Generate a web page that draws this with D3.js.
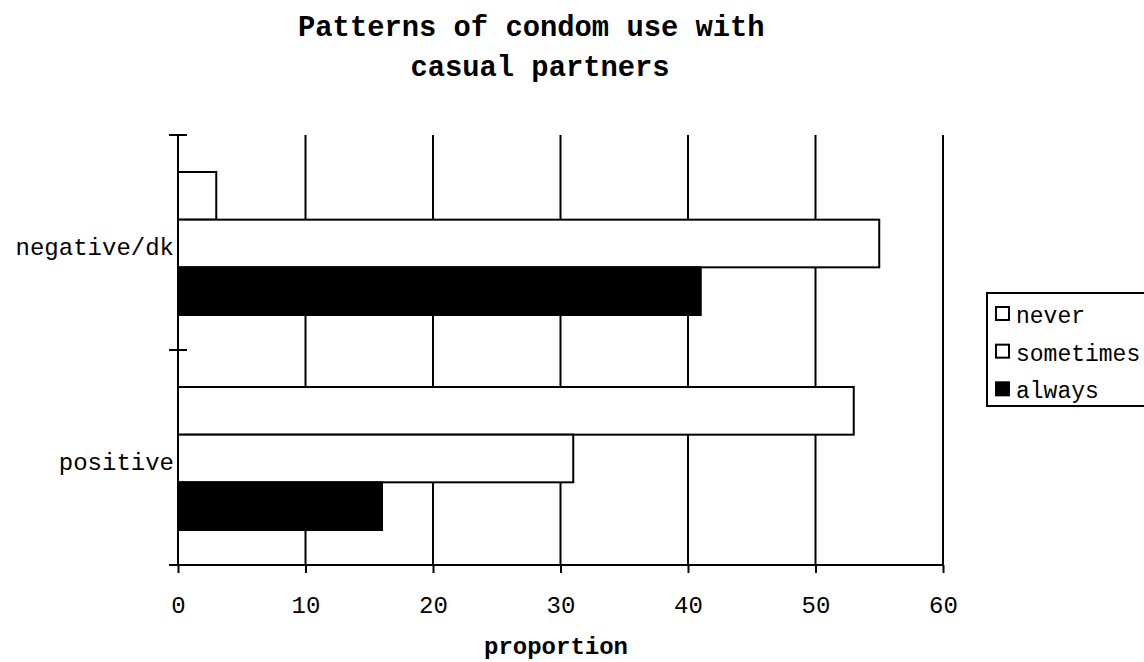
<!DOCTYPE html>
<html>
<head>
<meta charset="utf-8">
<script src="https://cdn.jsdelivr.net/npm/d3@7/dist/d3.min.js"></script>
<style>
  html, body { margin: 0; padding: 0; background: #fff; }
  svg { display: block; }
  text { font-family: "Liberation Mono", "Courier New", monospace; fill: #000; }
</style>
</head>
<body>
<svg id="chart" width="1144" height="662"></svg>
<script>
// ---- data ----
const categories = ["negative/dk", "positive"];
const seriesNames = ["never", "sometimes", "always"];
const never = [3, 53];
const sometimes = [55, 31];
const always = [41, 16];
const xTicks = [0, 10, 20, 30, 40, 50, 60];
const titleLines = ["Patterns of condom use with ", "casual partners"];
const xTitle = "proportion";

const seriesValues = [never, sometimes, always];
const seriesFill = ["#fff", "#fff", "#000"];

const svg = d3.select("#chart");

const x = d3.scaleLinear().domain([0, 60]).range([178, 943]);
const y = d3.scaleBand().domain(categories).range([135, 565]).paddingInner(0).paddingOuter(0);
const ySub = d3.scaleBand().domain(seriesNames).range([37, y.bandwidth() - 35]).padding(0);

// gridlines
svg.append("g").selectAll("line")
  .data(xTicks.filter(t => t > 0))
  .join("line")
  .attr("x1", d => x(d)).attr("x2", d => x(d))
  .attr("y1", 135).attr("y2", 565)
  .attr("stroke", "#000").attr("stroke-width", 2);

// bars
const rows = [];
categories.forEach((c, i) => {
  seriesNames.forEach((s, j) => rows.push({ cat: c, series: s, value: seriesValues[j][i], fill: seriesFill[j] }));
});
svg.append("g").selectAll("rect")
  .data(rows)
  .join("rect")
  .attr("x", x(0))
  .attr("y", d => y(d.cat) + ySub(d.series))
  .attr("width", d => x(d.value) - x(0))
  .attr("height", ySub.bandwidth())
  .attr("fill", d => d.fill)
  .attr("stroke", "#000")
  .attr("stroke-width", 2);

// x axis
const xAxis = d3.axisBottom(x).tickValues(xTicks).tickSize(8).tickPadding(24).tickSizeOuter(0);
const gx = svg.append("g").attr("transform", "translate(0,565)").call(xAxis);
gx.select(".domain").remove();
gx.selectAll(".tick line").attr("stroke", "#000").attr("stroke-width", 2);
gx.selectAll(".tick text").attr("font-size", 24).attr("font-family", "Liberation Mono, Courier New, monospace").attr("fill", "#000").attr("dy", null).attr("y", 48);
svg.append("line").attr("x1", 169).attr("x2", x(60)).attr("y1", 565).attr("y2", 565)
  .attr("stroke", "#000").attr("stroke-width", 2);
svg.append("line").attr("x1", x(0)).attr("x2", x(0)).attr("y1", 561).attr("y2", 565)
  .attr("stroke", "#000").attr("stroke-width", 2);

// y axis
svg.append("line").attr("x1", x(0)).attr("x2", x(0)).attr("y1", 135).attr("y2", 565)
  .attr("stroke", "#000").attr("stroke-width", 2);
const yBoundaries = [y(categories[0]), y(categories[1]), y(categories[1]) + y.bandwidth()];
svg.append("g").selectAll("line")
  .data(yBoundaries)
  .join("line")
  .attr("x1", 169).attr("x2", 187)
  .attr("y1", d => d).attr("y2", d => d)
  .attr("stroke", "#000").attr("stroke-width", 2);
svg.append("g").selectAll("text")
  .data(categories)
  .join("text")
  .attr("x", 174)
  .attr("y", d => y(d) + y.bandwidth() / 2 + 12)
  .attr("text-anchor", "end")
  .attr("font-size", 24)
  .text(d => d);

// title
svg.append("g").selectAll("text")
  .data(titleLines)
  .join("text")
  .attr("x", 540)
  .attr("y", (d, i) => 36 + i * 40)
  .attr("text-anchor", "middle")
  .attr("font-size", 28.8)
  .attr("font-weight", "bold")
  .style("white-space", "pre")
  .text(d => d);

// x title
svg.append("text")
  .attr("x", 556).attr("y", 654)
  .attr("text-anchor", "middle")
  .attr("font-size", 24)
  .attr("font-weight", "bold")
  .text(xTitle);

// legend
const lg = svg.append("g");
lg.append("rect").attr("x", 987).attr("y", 293).attr("width", 180).attr("height", 113)
  .attr("fill", "#fff").attr("stroke", "#000").attr("stroke-width", 2);
const legRow = d3.scaleBand().domain(seriesNames).range([293, 406]).padding(0);
seriesNames.forEach((s, j) => {
  const base = legRow(s) + 30;
  lg.append("rect").attr("x", 996).attr("y", base - 16).attr("width", 13).attr("height", 13)
    .attr("fill", seriesFill[j]).attr("stroke", "#000").attr("stroke-width", 2);
  lg.append("text").attr("x", 1016).attr("y", base).attr("font-size", 23).text(s);
});
</script>
</body>
</html>
